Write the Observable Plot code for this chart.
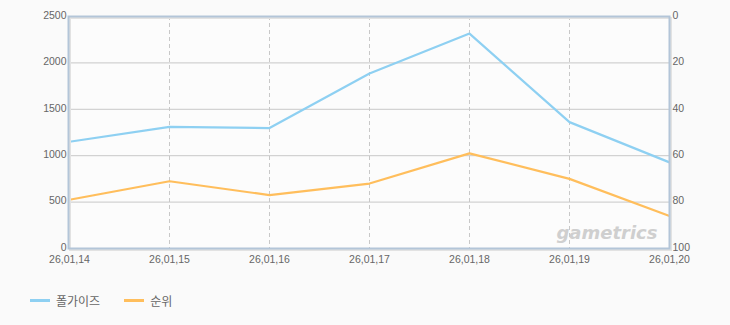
<!DOCTYPE html>
<html>
<head>
<meta charset="utf-8">
<script src="https://cdn.jsdelivr.net/npm/d3@7"></script>
<script src="https://cdn.jsdelivr.net/npm/@observablehq/plot@0.6"></script>
<style>
  html, body { margin: 0; padding: 0; background: #fafafa; }
  #chart { width: 730px; height: 325px; position: relative; }
  .legend { position: absolute; left: 30px; top: 292px; display: flex; align-items: center;
            font-family: "Noto Sans CJK KR", "Liberation Sans", sans-serif; font-size: 12px; color: #666; }
  .legend .sw { width: 20px; height: 3px; margin-right: 6px; }
  .legend .item { display: flex; align-items: center; margin-right: 24px; }
</style>
</head>
<body>
<div id="chart"></div>
<script>
const dates = ["26,01,14", "26,01,15", "26,01,16", "26,01,17", "26,01,18", "26,01,19", "26,01,20"];
const fallGuys = [1150, 1310, 1298, 1885, 2316, 1362, 928];
const rank = [79, 71, 77, 72, 59, 70, 86];
const leftTicks = [0, 500, 1000, 1500, 2000, 2500];
const rightTicks = [0, 20, 40, 60, 80, 100];
const seriesNames = ["폴가이즈", "순위"];
const colors = ["#8ed0f2", "#ffbe5c"];

// rank axis (0 top .. 100 bottom) mapped onto the left scale's domain
const rankToY = r => (100 - r) * 25;

const blueData = dates.map((d, i) => ({date: d, value: fallGuys[i]}));
const orangeData = dates.map((d, i) => ({date: d, value: rankToY(rank[i])}));

const font = "Liberation Sans, Arial, sans-serif";

const plot = Plot.plot({
  width: 730,
  height: 272,
  marginLeft: 68,
  marginRight: 61,
  marginTop: 16,
  marginBottom: 24,
  style: {background: "transparent", fontFamily: font, fontSize: "10.5px", color: "#666"},
  x: {type: "point", domain: dates, padding: 0, axis: null, label: null},
  y: {domain: [0, 2500], axis: null, label: null},
  marks: [
    Plot.frame({fill: "#fcfcfc", stroke: "none"}),
    Plot.ruleY(leftTicks.slice(1, -1), {stroke: "#c8c8c8", strokeWidth: 1}),
    Plot.ruleX(dates.slice(1, -1), {stroke: "#c8c8c8", strokeWidth: 1, strokeDasharray: "4,3"}),
    Plot.text(["gametrics"], {frameAnchor: "bottom-right", dx: -12, dy: -10, fill: "#cfcfcf",
      fontSize: 18, fontWeight: "bold", fontStyle: "italic", fontFamily: "DejaVu Sans, sans-serif"}),
    Plot.line(blueData, {x: "date", y: "value", stroke: colors[0], strokeWidth: 2.2}),
    Plot.line(orangeData, {x: "date", y: "value", stroke: colors[1], strokeWidth: 2.2}),
    Plot.frame({stroke: "#e2e2e2", strokeWidth: 2, dx: 1.5, dy: 1.5}),
    Plot.frame({stroke: "#b3c5d8", strokeWidth: 2}),
    Plot.axisY(leftTicks, {anchor: "left", tickSize: 0, tickPadding: 2, fill: "#666", label: null,
      dy: -1, tickFormat: d => String(d)}),
    Plot.axisY(rightTicks.map(rankToY), {anchor: "right", tickSize: 0, tickPadding: 3, fill: "#666", label: null,
      dy: -1, tickFormat: d => String(100 - d / 25)}),
    Plot.axisX(dates, {anchor: "bottom", tickSize: 0, tickPadding: 7, fill: "#666", label: null})
  ]
});

const chart = document.getElementById("chart");
chart.appendChild(plot);

const legend = document.createElement("div");
legend.className = "legend";
seriesNames.forEach((name, i) => {
  const item = document.createElement("div");
  item.className = "item";
  const sw = document.createElement("span");
  sw.className = "sw";
  sw.style.background = colors[i];
  const label = document.createElement("span");
  label.textContent = name;
  item.appendChild(sw);
  item.appendChild(label);
  legend.appendChild(item);
});
chart.appendChild(legend);
</script>
</body>
</html>
